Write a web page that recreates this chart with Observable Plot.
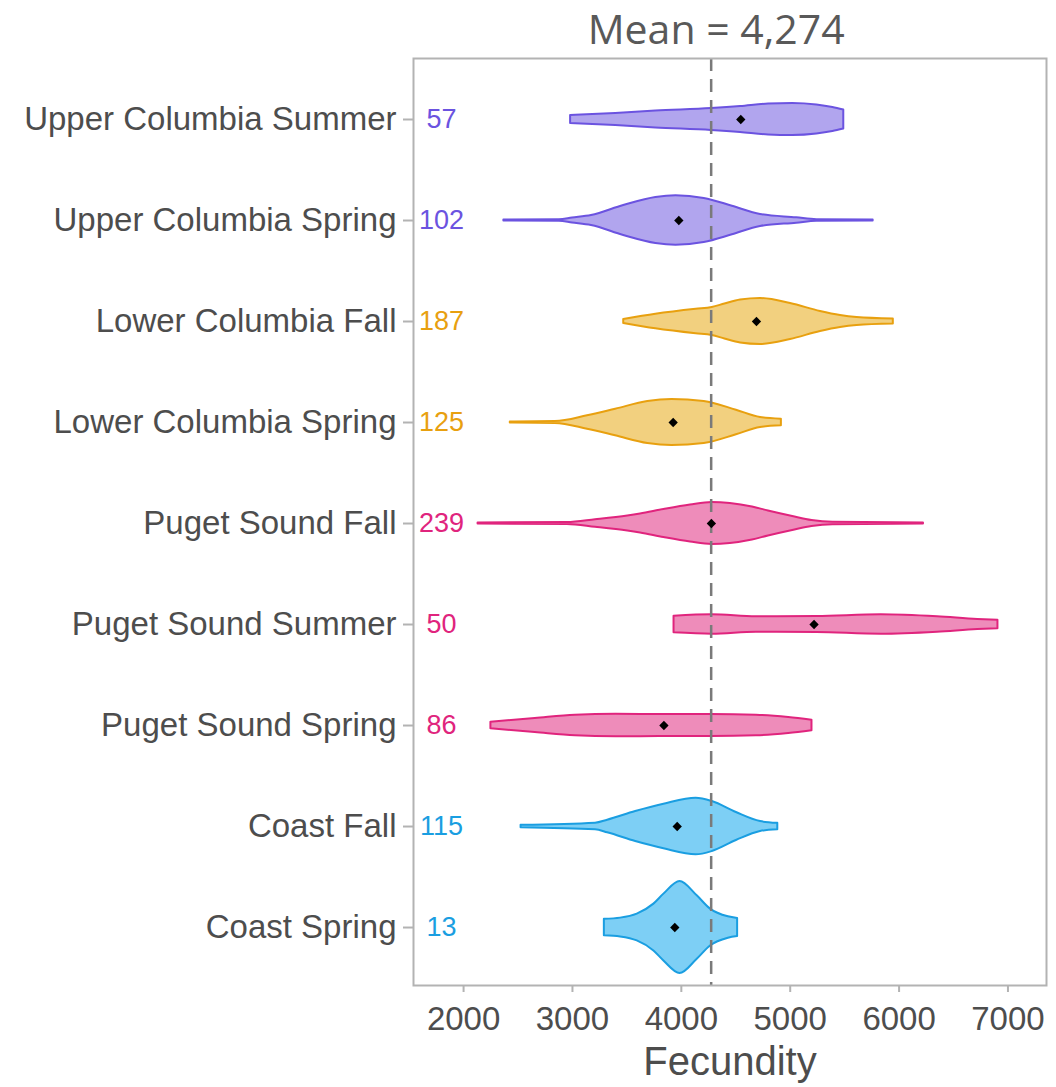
<!DOCTYPE html>
<html>
<head>
<meta charset="utf-8">
<script src="https://cdn.jsdelivr.net/npm/d3@7"></script>
<script src="https://cdn.jsdelivr.net/npm/@observablehq/plot@0.6"></script>
<style>
  html, body { margin: 0; padding: 0; background: #ffffff; }
  #chart { width: 1056px; height: 1087px; }
</style>
</head>
<body>
<div id="chart"></div>
<script>
// ---- Data ----
const categories = [
  "Upper Columbia Summer",
  "Upper Columbia Spring",
  "Lower Columbia Fall",
  "Lower Columbia Spring",
  "Puget Sound Fall",
  "Puget Sound Summer",
  "Puget Sound Spring",
  "Coast Fall",
  "Coast Spring"
];
const regions = [
  "Upper Columbia", "Upper Columbia",
  "Lower Columbia", "Lower Columbia",
  "Puget Sound", "Puget Sound", "Puget Sound",
  "Coast", "Coast"
];
const counts = [57, 102, 187, 125, 239, 50, 86, 115, 13];
const groupMeans = [4546, 3977, 4690, 3925, 4276, 5219, 3840, 3962, 3940];
const overallMean = 4274;
const xTicks = [2000, 3000, 4000, 5000, 6000, 7000];

// violin outlines: fecundity values and relative half-widths (density)
const violinFecundity = [
  [2983, 3397, 3766, 4276, 4544, 4801, 5023, 5245, 5392, 5492],
  [2370, 2880, 3000, 3175, 3471, 3766, 3951, 4210, 4469, 4727, 5060, 5245, 5762],
  [3471, 3766, 4136, 4284, 4400, 4544, 4727, 5003, 5278, 5462, 5614, 5947],
  [2429, 2843, 3138, 3397, 3692, 3914, 4210, 4506, 4727, 4919],
  [2133, 2953, 3212, 3508, 3625, 3840, 4084, 4284, 4450, 4653, 4800, 5023, 5200, 5392, 6224],
  [3933, 4284, 4690, 5245, 5836, 6353, 6723, 6908],
  [2251, 2658, 3027, 3400, 3800, 4276, 4690, 4986, 5200],
  [2528, 3212, 3323, 3581, 3840, 4136, 4284, 4506, 4727, 4886],
  [3293, 3442, 3595, 3748, 3840, 3988, 4146, 4268, 4432, 4517]
];
const violinDensity = [
  [4, 6.1, 8.5, 11, 13, 15.5, 16, 14.5, 12, 9.5],
  [0.6, 0.8, 2.5, 5, 15, 23, 24.7, 22, 14.3, 6, 2.7, 0.8, 0.6],
  [2, 7.3, 12.3, 14, 17.5, 21.5, 23, 18, 10, 6, 4, 2.5],
  [0.6, 0.9, 6.7, 13.3, 21, 23, 21, 12.3, 5, 3.3],
  [0.6, 0.9, 3.7, 7.5, 9.5, 14, 18.5, 21, 20, 16.5, 12.5, 7, 3, 1.2, 0.6],
  [8.3, 9.7, 7.7, 8, 9.7, 7.7, 5, 4.2],
  [3.3, 7, 10.3, 11.3, 11, 11, 10.3, 8, 5.3],
  [1.2, 3.3, 6.3, 15, 22.3, 28.3, 25, 14, 5, 3.2],
  [8.2, 9.4, 13.4, 23.4, 33.4, 46, 31.7, 18.4, 10.7, 9]
];

const regionStroke = {
  "Upper Columbia": "#6b53e0",
  "Lower Columbia": "#e8a00f",
  "Puget Sound": "#e0247d",
  "Coast": "#1a9ee1"
};
const regionFill = {
  "Upper Columbia": "#b1a5ee",
  "Lower Columbia": "#f2d07f",
  "Puget Sound": "#ee8cba",
  "Coast": "#7dcff5"
};

// ---- Build chart ----
const densityToUnits = 1 / 101; // density value -> category-step units
const marks = [];

categories.forEach((cat, i) => {
  const pts = violinFecundity[i].map((f, j) => ({f, w: violinDensity[i][j]}));
  marks.push(Plot.areaY(pts, {
    x: "f",
    y1: d => i - d.w * densityToUnits,
    y2: d => i + d.w * densityToUnits,
    curve: "monotone-x",
    fill: regionFill[regions[i]],
    stroke: regionStroke[regions[i]],
    strokeWidth: 2,
    strokeLinejoin: "round"
  }));
});

marks.push(Plot.ruleX([overallMean], {
  stroke: "#7a7a7a", strokeWidth: 2.5, strokeDasharray: "13,8"
}));

marks.push(Plot.dot(groupMeans.map((m, i) => ({m, i})), {
  x: "m", y: "i", symbol: "diamond2", r: 4.2, fill: "black", stroke: "none"
}));

marks.push(Plot.frame({stroke: "#b3b3b3", strokeWidth: 2}));

marks.push(Plot.axisX(xTicks, {
  tickSize: 7, tickPadding: 14, stroke: "#b3b3b3", strokeWidth: 2,
  fill: "#4d4d4d", fontSize: 33, label: null,
  tickFormat: d => String(d)
}));

marks.push(Plot.axisY(categories.map((c, i) => i), {
  tickSize: 10, tickPadding: 7, stroke: "#b3b3b3", strokeWidth: 2,
  fill: "#4d4d4d", fontSize: 33, label: null,
  tickFormat: i => categories[i]
}));

categories.forEach((cat, i) => {
  marks.push(Plot.text([i], {
    y: d => d, text: () => String(counts[i]),
    frameAnchor: "left", dx: 28, textAnchor: "middle",
    fill: regionStroke[regions[i]], fontSize: 27
  }));
});

marks.push(Plot.text(["Fecundity"], {
  text: d => d, frameAnchor: "bottom", lineAnchor: "middle", dy: 77,
  fill: "#4d4d4d", fontSize: 40
}));

marks.push(Plot.text(["Mean = 4,274"], {
  text: d => d, x: () => overallMean, frameAnchor: "top", lineAnchor: "middle",
  dy: -28, dx: 5, fill: "#595959", fontSize: 41,
  fontFamily: "'Open Sans', 'Noto Sans', sans-serif"
}));

const chart = Plot.plot({
  width: 1056,
  height: 1087,
  marginLeft: 413,
  marginRight: 10,
  marginTop: 58,
  marginBottom: 102,
  style: {
    fontFamily: "'Liberation Sans', Arial, sans-serif",
    background: "#ffffff",
    overflow: "visible"
  },
  x: {domain: [1540, 7354], axis: null},
  y: {domain: [-0.604, 8.574], reverse: true, axis: null},
  marks
});

document.getElementById("chart").appendChild(chart);
</script>
</body>
</html>
